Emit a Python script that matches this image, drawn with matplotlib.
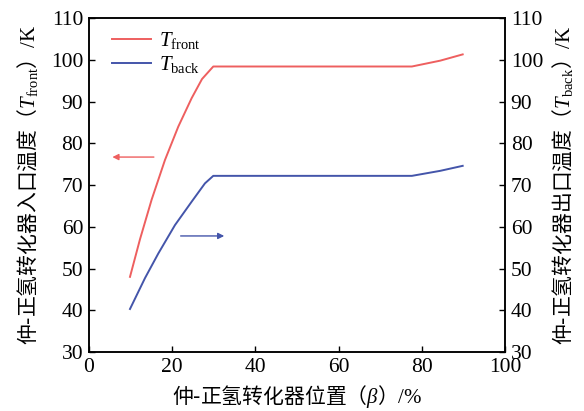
import matplotlib
matplotlib.use('Agg')
import matplotlib.pyplot as plt

plt.rcParams['font.family'] = ['Liberation Serif', 'Noto Sans CJK SC']
plt.rcParams['mathtext.fontset'] = 'custom'
plt.rcParams['mathtext.rm'] = 'Noto Sans CJK SC'
plt.rcParams['mathtext.it'] = 'Liberation Serif:italic'
plt.rcParams['mathtext.sf'] = 'Liberation Serif'

# data
beta_front = [9.9, 12.3, 15.1, 18.3, 21.5, 24.7, 27.2, 29.9, 77.6, 84.4, 89.8]
t_front = [48.0, 57.0, 66.5, 76.0, 84.0, 90.8, 95.4, 98.4, 98.4, 99.8, 101.3]
beta_back = [9.9, 13.5, 16.7, 20.7, 24.7, 27.9, 29.9, 77.6, 84.4, 89.8]
t_back = [40.3, 47.7, 53.6, 60.4, 66.0, 70.4, 72.2, 72.2, 73.4, 74.6]

red = '#EE5F5F'
blue = '#4455AA'

fig = plt.figure(figsize=(5.84, 4.11), dpi=100)
ax = fig.add_axes([0.152, 0.1436, 0.713, 0.8124])
ax2 = ax.twinx()

l1, = ax.plot(beta_front, t_front, color=red, lw=1.4)
l2, = ax.plot(beta_back, t_back, color=blue, lw=1.4)

ax.annotate('', xy=(5, 76.7), xytext=(16.3, 76.7),
            arrowprops=dict(arrowstyle='-|>', color=red, lw=1.0, mutation_scale=9))
ax.annotate('', xy=(33.2, 57.8), xytext=(21.4, 57.8),
            arrowprops=dict(arrowstyle='-|>', color=blue, lw=1.0, mutation_scale=9))

for a in (ax, ax2):
    a.set_xlim(0, 100)
    a.set_ylim(30, 110)
    a.set_yticks(range(30, 111, 10))
    a.tick_params(direction='in', length=4, width=1, labelsize=15.5, pad=4)
    for s in a.spines.values():
        s.set_linewidth(1.1)
ax.set_xticks(range(0, 101, 20))


def cjk_label(head, sym, sub, tail):
    s = '$\\text{' + head + '（}'
    if sub:
        s += '\\mathit{' + sym + '}_{\\mathsf{' + sub + '}}'
    else:
        s += '\\mathit{' + sym + '}'
    return s + '\\text{）}\\mathsf{' + tail + '}$'


ax.set_xlabel(cjk_label('仲-正氢转化器位置', '\\beta', '', '/\\%'), fontsize=15, labelpad=5)
ax.set_ylabel(cjk_label('仲-正氢转化器入口温度', 'T', 'front', '/K'), fontsize=15, labelpad=8)
ax2.set_ylabel(cjk_label('仲-正氢转化器出口温度', 'T', 'back', '/K'), fontsize=15, labelpad=5)

ax.legend([l1, l2], ['$\\mathit{T}_{\\mathsf{front}}$', '$\\mathit{T}_{\\mathsf{back}}$'],
          loc='upper left', bbox_to_anchor=(0.01, 1.02), frameon=False, fontsize=15,
          handlelength=1.9, handletextpad=0.35, labelspacing=0.15)

fig.savefig('out.png', dpi=100)
